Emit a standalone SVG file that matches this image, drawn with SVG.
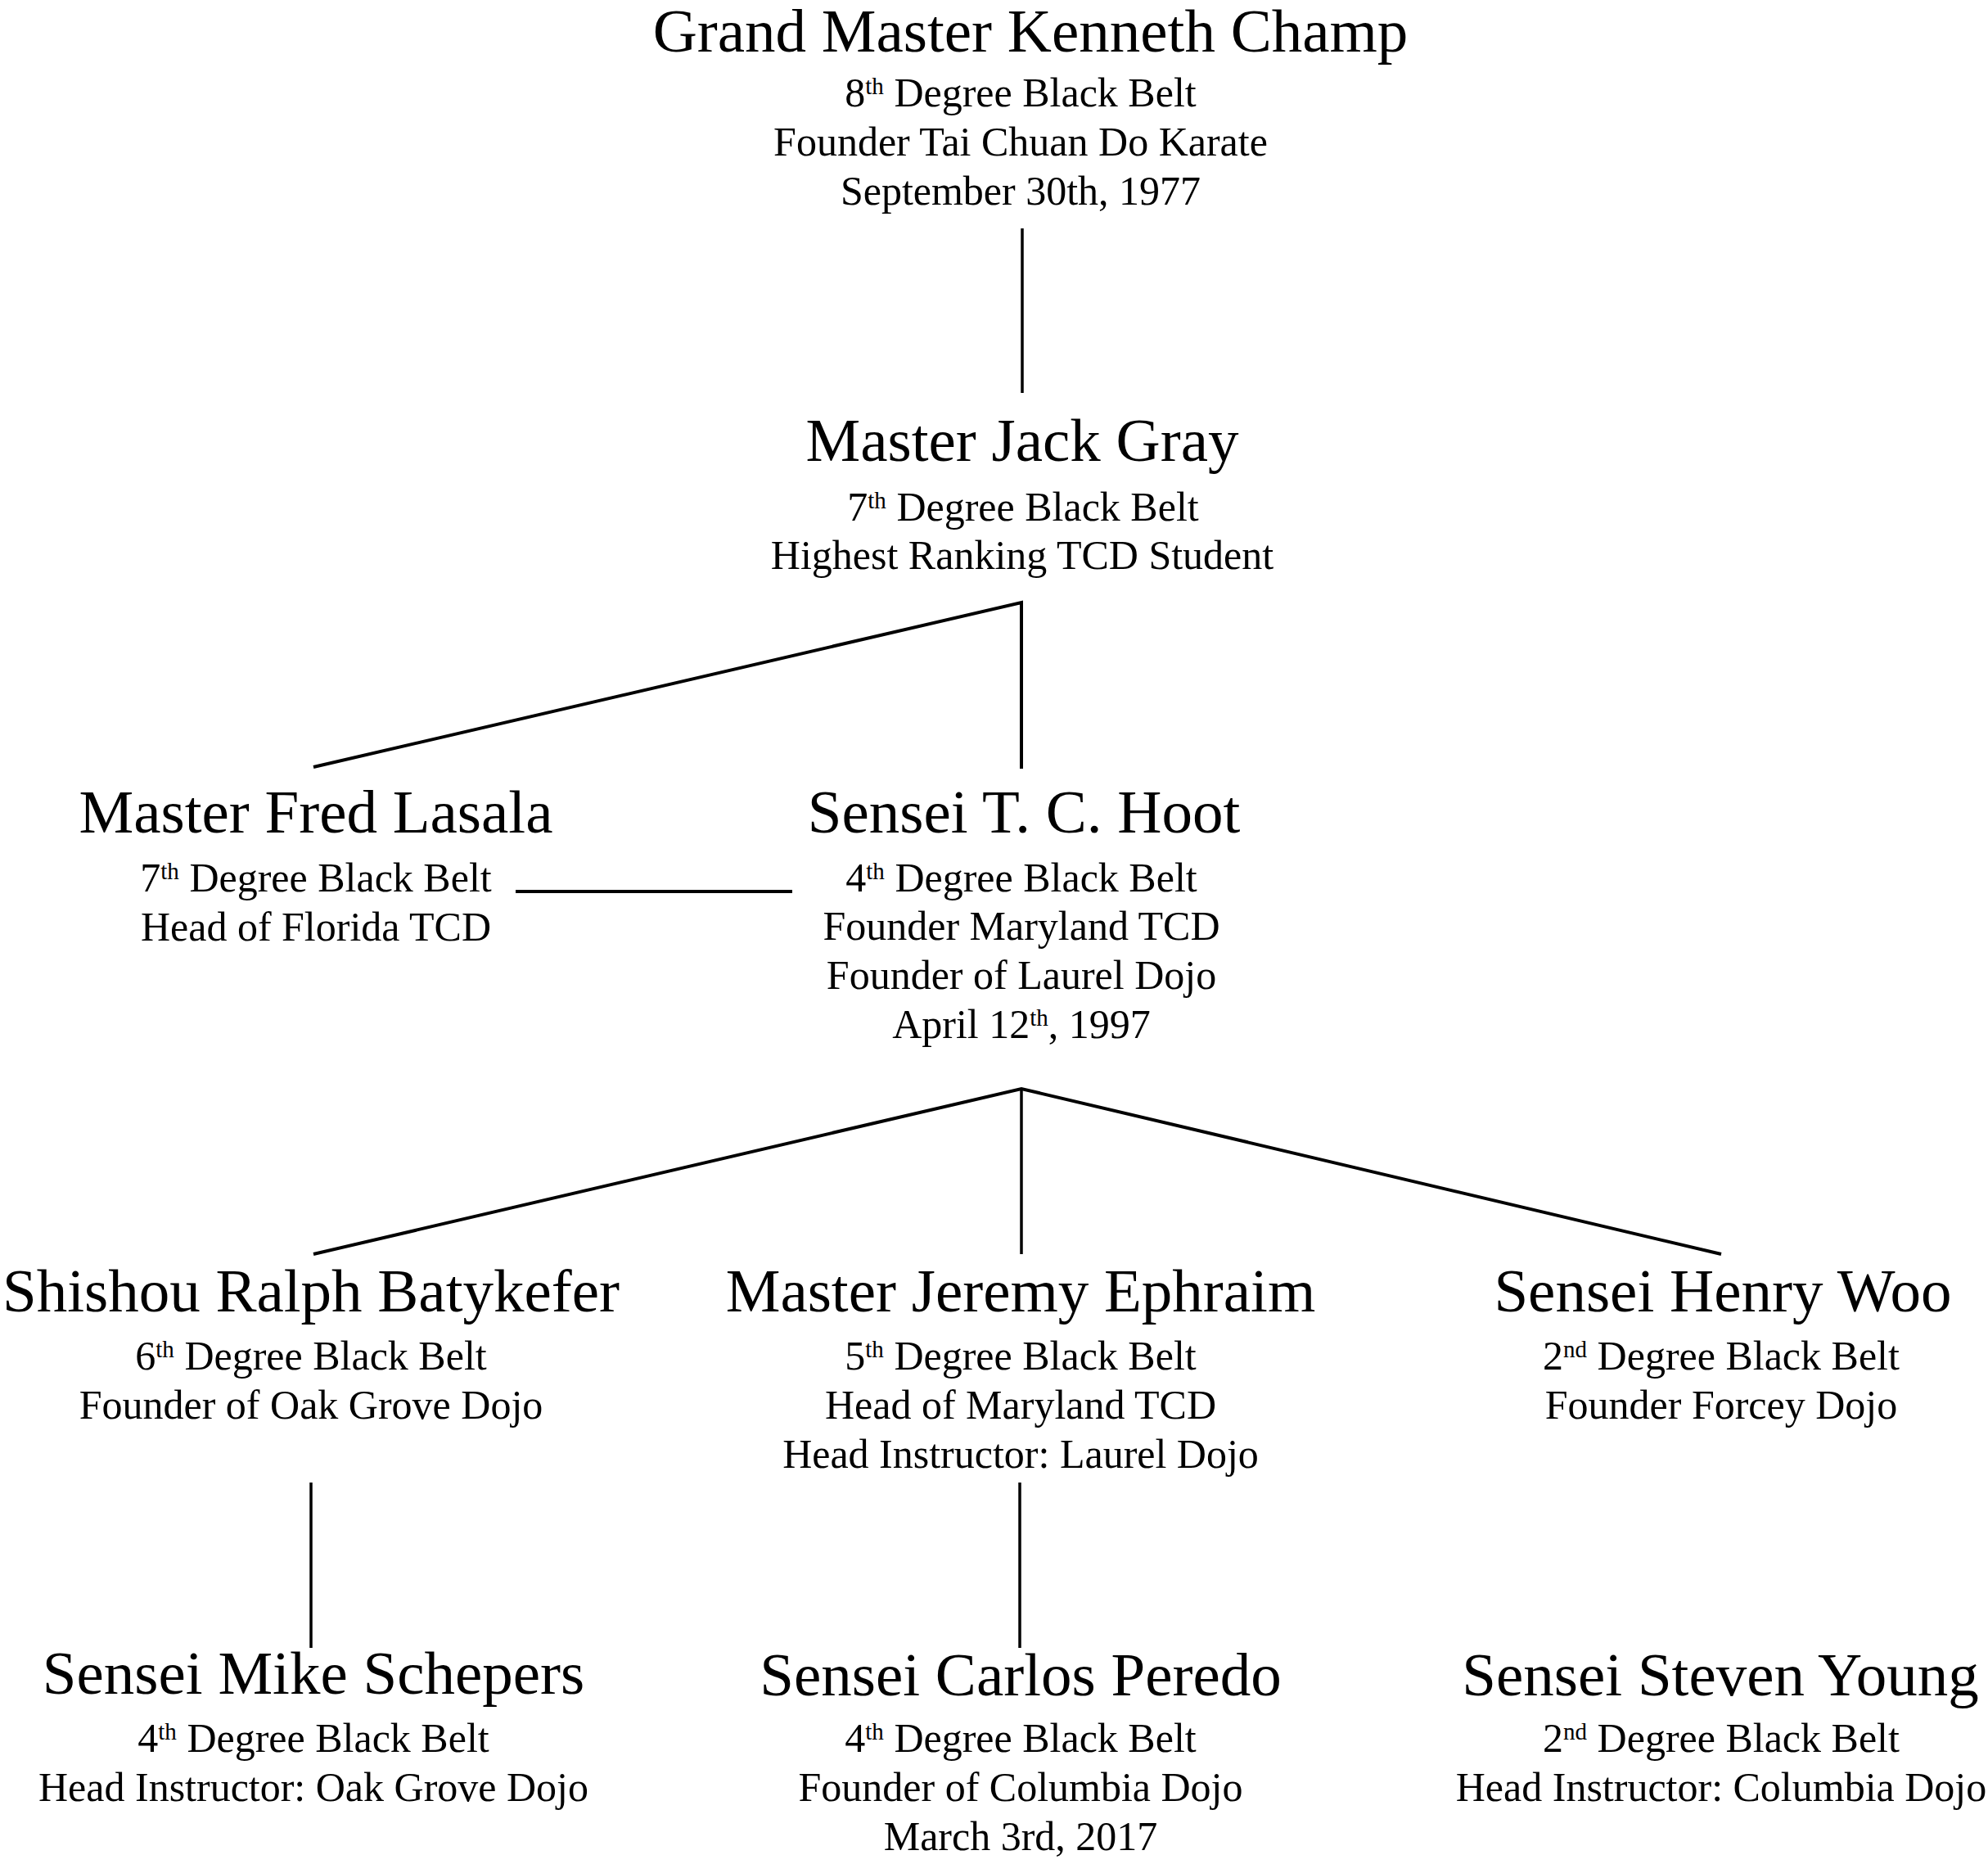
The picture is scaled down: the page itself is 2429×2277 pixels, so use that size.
<svg xmlns="http://www.w3.org/2000/svg" width="2429" height="2277" viewBox="0 0 2429 2277">
<style>
text { font-family: "Liberation Serif", "Times New Roman", serif; fill: #000; text-anchor: middle; }
.t { font-size: 75px; }
.s { font-size: 50px; }
.sup { font-size: 29px; }
.c { stroke: #000; fill: none; stroke-linecap: butt; stroke-linejoin: miter; }
.v { stroke-width: 3.5; }
.d { stroke-width: 4; }
</style>
<rect x="0" y="0" width="2429" height="2277" fill="#fff"/>

<g id="connectors">
  <line class="c v" x1="1249" y1="279" x2="1249" y2="480"/>
  <polyline class="c d" points="383,937 1248,736 1248,939"/>
  <line class="c d" x1="630" y1="1089" x2="968" y2="1089"/>
  <polyline class="c d" points="383,1532 1248,1330 2103,1532"/>
  <line class="c v" x1="1248" y1="1330" x2="1248" y2="1532"/>
  <line class="c v" x1="380" y1="1811" x2="380" y2="2013"/>
  <line class="c v" x1="1246" y1="1811" x2="1246" y2="2013"/>
</g>

<g id="node-kenneth-champ">
  <text class="t" x="1259" y="63">Grand Master Kenneth Champ</text>
  <text class="s" x="1247" y="130">8<tspan class="sup" dy="-15">th</tspan><tspan dy="15"> Degree Black Belt</tspan></text>
  <text class="s" x="1247" y="190">Founder Tai Chuan Do Karate</text>
  <text class="s" x="1247" y="250">September 30th, 1977</text>
</g>

<g id="node-jack-gray">
  <text class="t" x="1249" y="563">Master Jack Gray</text>
  <text class="s" x="1250" y="636">7<tspan class="sup" dy="-15">th</tspan><tspan dy="15"> Degree Black Belt</tspan></text>
  <text class="s" x="1249" y="695">Highest Ranking TCD Student</text>
</g>

<g id="node-fred-lasala">
  <text class="t" x="386" y="1017">Master Fred Lasala</text>
  <text class="s" x="386" y="1089">7<tspan class="sup" dy="-15">th</tspan><tspan dy="15"> Degree Black Belt</tspan></text>
  <text class="s" x="386" y="1149">Head of Florida TCD</text>
</g>

<g id="node-tc-hoot">
  <text class="t" x="1251" y="1017">Sensei T. C. Hoot</text>
  <text class="s" x="1248" y="1089">4<tspan class="sup" dy="-15">th</tspan><tspan dy="15"> Degree Black Belt</tspan></text>
  <text class="s" x="1248" y="1148">Founder Maryland TCD</text>
  <text class="s" x="1248" y="1208">Founder of Laurel Dojo</text>
  <text class="s" x="1248" y="1268">April 12<tspan class="sup" dy="-15">th</tspan><tspan dy="15">, 1997</tspan></text>
</g>

<g id="node-ralph-batykefer">
  <text class="t" x="380" y="1602">Shishou Ralph Batykefer</text>
  <text class="s" x="380" y="1673">6<tspan class="sup" dy="-15">th</tspan><tspan dy="15"> Degree Black Belt</tspan></text>
  <text class="s" x="380" y="1733">Founder of Oak Grove Dojo</text>
</g>

<g id="node-jeremy-ephraim">
  <text class="t" x="1247" y="1602">Master Jeremy Ephraim</text>
  <text class="s" x="1247" y="1673">5<tspan class="sup" dy="-15">th</tspan><tspan dy="15"> Degree Black Belt</tspan></text>
  <text class="s" x="1247" y="1733">Head of Maryland TCD</text>
  <text class="s" x="1247" y="1793">Head Instructor: Laurel Dojo</text>
</g>

<g id="node-henry-woo">
  <text class="t" x="2105" y="1602">Sensei Henry Woo</text>
  <text class="s" x="2103" y="1673">2<tspan class="sup" dy="-15">nd</tspan><tspan dy="15"> Degree Black Belt</tspan></text>
  <text class="s" x="2103" y="1733">Founder Forcey Dojo</text>
</g>

<g id="node-mike-schepers">
  <text class="t" x="383" y="2069">Sensei Mike Schepers</text>
  <text class="s" x="383" y="2140">4<tspan class="sup" dy="-15">th</tspan><tspan dy="15"> Degree Black Belt</tspan></text>
  <text class="s" x="383" y="2200">Head Instructor: Oak Grove Dojo</text>
</g>

<g id="node-carlos-peredo">
  <text class="t" x="1247" y="2071">Sensei Carlos Peredo</text>
  <text class="s" x="1247" y="2140">4<tspan class="sup" dy="-15">th</tspan><tspan dy="15"> Degree Black Belt</tspan></text>
  <text class="s" x="1247" y="2200">Founder of Columbia Dojo</text>
  <text class="s" x="1247" y="2260">March 3rd, 2017</text>
</g>

<g id="node-steven-young">
  <text class="t" x="2102" y="2071">Sensei Steven Young</text>
  <text class="s" x="2103" y="2140">2<tspan class="sup" dy="-15">nd</tspan><tspan dy="15"> Degree Black Belt</tspan></text>
  <text class="s" x="2103" y="2200">Head Instructor: Columbia Dojo</text>
</g>
</svg>
